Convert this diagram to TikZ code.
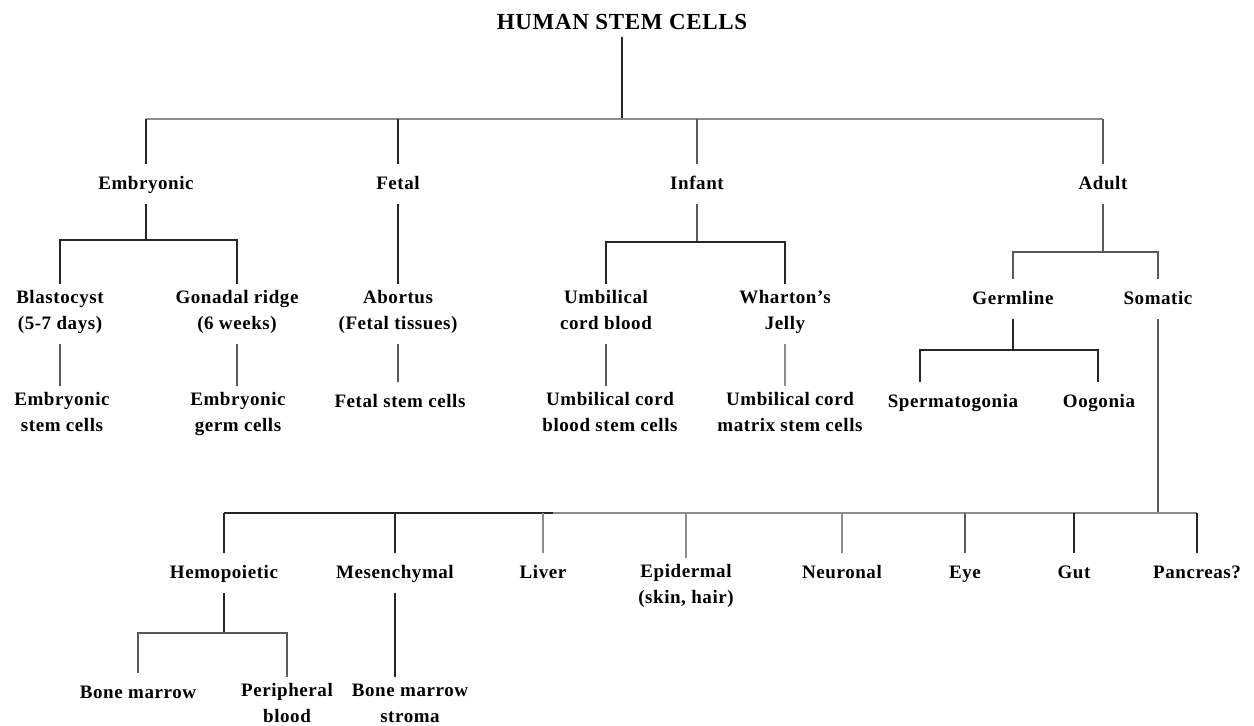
\documentclass[tikz,border=0pt]{standalone}
\usepackage{fontspec}
\setmainfont{Liberation Serif}
\begin{document}
\begin{tikzpicture}[x=1pt,y=-1pt,
  lbl/.style={font=\fontsize{19}{26}\selectfont\bfseries\addfontfeatures{LetterSpace=3}, align=center, inner sep=1pt, outer ysep=6pt, anchor=center, execute at begin node={\strut}, execute at end node={\strut}},
  ttl/.style={font=\fontsize{23}{26}\selectfont\bfseries\addfontfeatures{LetterSpace=3}, inner sep=1pt, outer ysep=6pt, anchor=center},
  ln/.style={line width=1.5pt, draw=black!85},
  lg/.style={line width=1.8pt, draw=black!45},
  lm/.style={line width=1.6pt, draw=black!65}]
\useasboundingbox (0,0) rectangle (1254,726);
% level 0
\node[ttl] (root) at (622,22) {HUMAN STEM CELLS};
% level 1
\node[lbl] (emb) at (146,184) {Embryonic};
\node[lbl] (fetal) at (398,184) {Fetal};
\node[lbl] (infant) at (697,184) {Infant};
\node[lbl] (adult) at (1103,184) {Adult};
% level 2
\node[lbl] (blast) at (60,314) {Blastocyst\\(5-7 days)};
\node[lbl] (gonad) at (237,314) {Gonadal ridge\\(6 weeks)};
\node[lbl] (abort) at (398,314) {Abortus\\(Fetal tissues)};
\node[lbl] (ucb) at (606,314) {Umbilical\\cord blood};
\node[lbl] (whart) at (785,314) {Wharton's\\Jelly};
\node[lbl] (germ) at (1013,299) {Germline};
\node[lbl] (soma) at (1158,299) {Somatic};
% level 3
\node[lbl] (esc) at (62,416) {Embryonic\\stem cells};
\node[lbl] (egc) at (238,416) {Embryonic\\germ cells};
\node[lbl] (fsc) at (400,402) {Fetal stem cells};
\node[lbl] (ucbsc) at (610,416) {Umbilical cord\\blood stem cells};
\node[lbl] (ucmsc) at (790,416) {Umbilical cord\\matrix stem cells};
\node[lbl] (sperm) at (953,402) {Spermatogonia};
\node[lbl] (oog) at (1099,402) {Oogonia};
% somatic row
\node[lbl] (hemo) at (224,573) {Hemopoietic};
\node[lbl] (mes) at (395,573) {Mesenchymal};
\node[lbl] (liver) at (543,573) {Liver};
\node[lbl] (epi) at (686,588) {Epidermal\\(skin, hair)};
\node[lbl] (neur) at (842,573) {Neuronal};
\node[lbl] (eye) at (965,573) {Eye};
\node[lbl] (gut) at (1074,573) {Gut};
\node[lbl] (panc) at (1197,573) {Pancreas?};
% bottom row
\node[lbl] (bm) at (138,693) {Bone marrow};
\node[lbl] (pb) at (287,707) {Peripheral\\blood};
\node[lbl] (bms) at (410,707) {Bone marrow\\stroma};
% bar levels
\coordinate (b0) at (622,119);
\coordinate (b1) at (146,240);
\coordinate (b2) at (697,242);
\coordinate (b3) at (1103,252);
\coordinate (b4) at (1013,350);
\coordinate (b5) at (1158,513);
\coordinate (b6) at (224,633);
\coordinate (s1) at (920,350);
\coordinate (s2) at (1098,350);
\coordinate (sj) at (553,513);
% root
\draw[ln] (root.south) -- (b0);
\draw[lg] (emb.north |- b0) -- (adult.north |- b0);
\draw[ln] (emb.north |- b0) -- (emb.north);
\draw[ln] (fetal.north |- b0) -- (fetal.north);
\draw[lm] (infant.north |- b0) -- (infant.north);
\draw[lm] (adult.north |- b0) -- (adult.north);
% embryonic
\draw[ln] (emb.south) -- (b1);
\draw[ln] (blast.north) -- (blast.north |- b1) -- (gonad.north |- b1) -- (gonad.north);
\draw[lm] (blast.south) -- (blast.south |- esc.north);
\draw[lm] (gonad.south) -- (gonad.south |- egc.north);
% fetal
\draw[ln] (fetal.south) -- (abort.north);
\draw[lm] (abort.south) -- (abort.south |- fsc.north);
% infant
\draw[lm] (infant.south) -- (b2);
\draw[ln] (ucb.north) -- (ucb.north |- b2) -- (whart.north |- b2) -- (whart.north);
\draw[lm] (ucb.south) -- (ucb.south |- ucbsc.north);
\draw[lg] (whart.south) -- (whart.south |- ucmsc.north);
% adult
\draw[lm] (adult.south) -- (b3);
\draw[lm] (germ.north) -- (germ.north |- b3) -- (soma.north |- b3) -- (soma.north);
\draw[ln] (germ.south) -- (b4);
\draw[ln] (sperm.north -| s1) -- (s1) -- (s2) -- (oog.north -| s2);
% somatic
\draw[lm] (soma.south) -- (b5);
\draw[ln] (hemo.north |- b5) -- (sj);
\draw[lg] (sj) -- (panc.north |- b5);
\draw[ln] (hemo.north |- b5) -- (hemo.north);
\draw[ln] (mes.north |- b5) -- (mes.north);
\draw[lg] (liver.north |- b5) -- (liver.north);
\draw[lg] (epi.north |- b5) -- (epi.north);
\draw[lg] (neur.north |- b5) -- (neur.north);
\draw[lm] (eye.north |- b5) -- (eye.north);
\draw[ln] (gut.north |- b5) -- (gut.north);
\draw[ln] (panc.north |- b5) -- (panc.north);
% hemopoietic
\draw[ln] (hemo.south) -- (b6);
\draw[lm] (bm.north) -- (bm.north |- b6) -- (pb.north |- b6) -- (pb.north);
\draw[ln] (mes.south) -- (mes.south |- bms.north);
\end{tikzpicture}
\end{document}
